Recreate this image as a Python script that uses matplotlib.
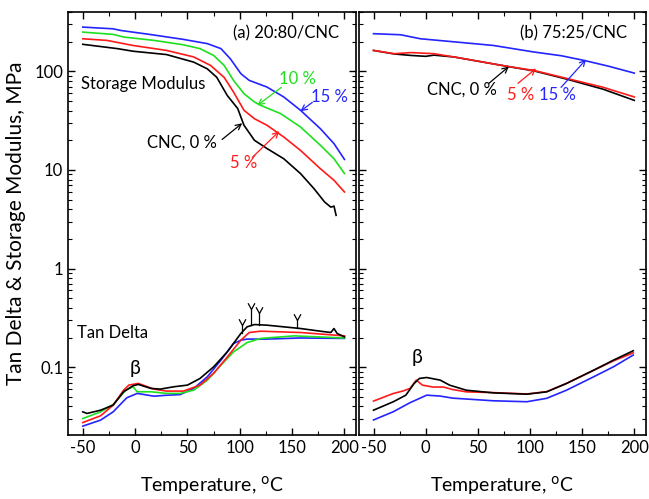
import matplotlib
matplotlib.use("Agg")
import matplotlib.pyplot as plt
from matplotlib.path import Path
from matplotlib.ticker import LogLocator, MultipleLocator, NullFormatter, FixedLocator, FixedFormatter

plt.rcParams['font.family'] = ['Lato', 'DejaVu Sans']
plt.rcParams['axes.unicode_minus'] = False

# ---- panel (a) 20:80/CNC, storage modulus (MPa)
a_e0_t = [-50, -17, -2, 30, 56, 69, 78, 88, 98, 104, 114, 126, 142, 158, 171, 181, 187, 190, 192]
a_e0 = [188, 170, 160, 148, 124, 106, 87, 57, 42, 28.4, 20, 16.5, 13, 9.2, 6.45, 4.74, 4.2, 4.3, 3.47]
a_e5_t = [-50, -27, -2, 30, 56, 72, 85, 94, 104, 114, 126, 142, 158, 177, 190, 200]
a_e5 = [214, 206, 183, 163, 140, 115, 87, 61.7, 40.3, 33.1, 28.4, 21.6, 15.8, 10.3, 7.86, 5.98]
a_e10_t = [-50, -21, -11, 18, 46, 62, 75, 85, 94, 104, 114, 120, 139, 158, 177, 190, 200]
a_e10 = [250, 237, 223, 206, 186, 170, 145, 115, 81, 59.4, 48.9, 45.2, 37.3, 27.3, 17.8, 13, 9.2]
a_e15_t = [-50, -21, -14, 15, 46, 69, 82, 91, 101, 109, 126, 142, 158, 177, 190, 200]
a_e15 = [281, 270, 260, 236, 211, 191, 170, 134, 94.8, 81, 69.3, 55, 40.3, 26.2, 18.5, 12.8]

# ---- panel (a) tan delta
a_d0_t = [-50, -46, -33, -21, -11, -2, 3, 15, 24, 37, 50, 62, 75, 88, 101, 107, 114, 126,
          158, 177, 187, 190, 193, 200]
a_d0 = [0.0353, 0.034, 0.0367, 0.0413, 0.0564, 0.0649, 0.067, 0.061, 0.060, 0.0634, 0.0659,
        0.077, 0.101, 0.143, 0.22, 0.257, 0.271, 0.267, 0.247, 0.232, 0.225, 0.247, 0.22, 0.203]
a_d5_t = [-50, -33, -21, -11, -6, 3, 18, 30, 46, 62, 75, 88, 101, 109, 120, 158, 200]
a_d5 = [0.0275, 0.0322, 0.0413, 0.0586, 0.0659, 0.0686, 0.060, 0.0573, 0.0573, 0.0659, 0.0867,
        0.127, 0.188, 0.225, 0.232, 0.225, 0.208]
a_d10_t = [-50, -33, -21, -9, -2, 2, 15, 30, 43, 56, 69, 82, 94, 107, 120, 152, 200]
a_d10 = [0.0302, 0.0353, 0.042, 0.0586, 0.0634, 0.0564, 0.0564, 0.0543, 0.0543, 0.0586, 0.074,
         0.105, 0.143, 0.178, 0.196, 0.208, 0.198]
a_d15_t = [-50, -33, -21, -8, 2, 18, 30, 43, 56, 69, 82, 94, 101, 107, 126, 158, 200]
a_d15 = [0.0253, 0.0291, 0.0353, 0.049, 0.0543, 0.0509, 0.052, 0.0528, 0.061, 0.080, 0.118,
         0.174, 0.188, 0.193, 0.193, 0.198, 0.196]

# gamma markers on the 0 % tan delta curve
gamma_t = [102, 111, 118, 155]
gamma_top = [0.27, 0.394, 0.351, 0.30]
gamma_base = [0.222, 0.271, 0.27, 0.248]

# ---- panel (b) 75:25/CNC, storage modulus
b_e0_t = [-50, -30, -14, 0, 8, 27, 79, 104, 136, 170, 200]
b_e0 = [163, 150, 145, 142, 146, 140, 112, 101, 83, 66, 50.8]
b_e5_t = [-50, -30, -14, 8, 27, 79, 104, 136, 170, 200]
b_e5 = [163, 151, 155, 151, 140, 112, 102, 84.4, 69, 55]
b_e15_t = [-50, -24, -5, 30, 65, 104, 130, 152, 175, 200]
b_e15 = [241, 235, 214, 198, 183, 157, 144, 129, 113, 96]

# ---- panel (b) tan delta
b_d0_t = [-50, -31, -19, -11, -6, 1, 14, 23, 39, 65, 97, 116, 135, 161, 180, 199]
b_d0 = [0.0367, 0.0447, 0.0521, 0.0685, 0.077, 0.0787, 0.074, 0.0658, 0.0585, 0.055, 0.0533,
        0.0563, 0.0685, 0.0933, 0.118, 0.147]
b_d5_t = [-50, -31, -22, -15, -9, -3, 7, 17, 26, 39, 65, 97, 116, 135, 161, 180, 199]
b_d5 = [0.0454, 0.0542, 0.0573, 0.061, 0.074, 0.0658, 0.063, 0.063, 0.0594, 0.0563, 0.0553,
        0.0536, 0.0566, 0.0685, 0.093, 0.116, 0.14]
b_d15_t = [-50, -31, -15, 1, 14, 26, 65, 97, 116, 135, 161, 180, 199]
b_d15 = [0.0292, 0.0354, 0.0437, 0.0521, 0.051, 0.0486, 0.0457, 0.0447, 0.0484, 0.0585, 0.080,
         0.101, 0.133]

BLACK = 'black'
RED = '#ff1a1a'
GREEN = '#1ee01e'
BLUE = '#2424ff'
lw = 1.2

# open "V" used as the top of the gamma "Y" marks
vee = Path([(-0.55, 1.0), (0, 0), (0.55, 1.0)], [Path.MOVETO, Path.LINETO, Path.LINETO])

fig = plt.figure(figsize=(6.49, 4.99), dpi=100)
ax1 = fig.add_axes([0.105, 0.128, 0.4435, 0.848])
ax2 = fig.add_axes([0.553, 0.128, 0.442, 0.848])

for ax in (ax1, ax2):
    ax.set_yscale('log')
    ax.set_xlim(-64, 211)
    ax.set_ylim(0.0205, 400)
    ax.xaxis.set_major_locator(MultipleLocator(50))
    ax.xaxis.set_minor_locator(MultipleLocator(25))
    ax.yaxis.set_major_locator(FixedLocator([0.1, 1, 10, 100]))
    ax.yaxis.set_minor_locator(LogLocator(base=10, subs=range(2, 10)))
    ax.yaxis.set_minor_formatter(NullFormatter())
    ax.tick_params(which='both', direction='in', top=True, right=True, labelsize=12)
    ax.tick_params(which='major', length=5, width=1)
    ax.tick_params(which='minor', length=3, width=0.8)
    for s in ax.spines.values():
        s.set_linewidth(1.2)
    ax.set_xlabel('Temperature, $^{\\mathrm{o}}$C', fontsize=14, labelpad=13)

ax1.yaxis.set_major_formatter(FixedFormatter(['0.1', '1', '10', '100']))
ax2.yaxis.set_major_formatter(NullFormatter())
ax1.set_ylabel('Tan Delta & Storage Modulus, MPa', fontsize=15, labelpad=6)

# panel (a)
ax1.plot(a_e0_t, a_e0, color=BLACK, lw=lw)
ax1.plot(a_e5_t, a_e5, color=RED, lw=lw)
ax1.plot(a_e10_t, a_e10, color=GREEN, lw=lw)
ax1.plot(a_e15_t, a_e15, color=BLUE, lw=lw)
ax1.plot(a_d15_t, a_d15, color=BLUE, lw=lw)
ax1.plot(a_d10_t, a_d10, color=GREEN, lw=lw)
ax1.plot(a_d5_t, a_d5, color=RED, lw=lw)
ax1.plot(a_d0_t, a_d0, color=BLACK, lw=lw)
for t, top, base in zip(gamma_t, gamma_top, gamma_base):
    ax1.plot([t, t], [base, top], color=BLACK, lw=0.9)
    ax1.plot([t], [top], marker=vee, color=BLACK, ms=9, mew=0.9, mfc='none')

ax1.text(0.94, 0.95, '(a) 20:80/CNC', transform=ax1.transAxes, ha='right', va='center', fontsize=12)
ax1.text(-52, 75, 'Storage Modulus', fontsize=12, va='center')
ax1.text(-56, 0.22, 'Tan Delta', fontsize=12, va='center')
ax1.text(0, 0.097, '\u03b2', fontsize=14, ha='center', va='center')

def arrow(ax, p0, p1, color):
    ax.annotate('', xy=p1, xytext=p0,
                arrowprops=dict(arrowstyle='->', lw=0.9, color=color, shrinkA=0, shrinkB=0))

arrow(ax1, (139.7, 68.8), (116.7, 45.2), GREEN)
ax1.text(155, 83, '10 %', color=GREEN, fontsize=12, ha='center', va='center')
arrow(ax1, (169.3, 48.5), (157.9, 39.4), BLUE)
ax1.text(185.5, 54.5, '15 %', color=BLUE, fontsize=12, ha='center', va='center')
arrow(ax1, (83.1, 20.4), (102.3, 29.8), BLACK)
ax1.text(45, 19.1, 'CNC, 0 %', color=BLACK, fontsize=12, ha='center', va='center')
arrow(ax1, (111.9, 13.4), (137.7, 24.7), RED)
ax1.text(104, 11.7, '5 %', color=RED, fontsize=12, ha='center', va='center')

# panel (b)
ax2.plot(b_e0_t, b_e0, color=BLACK, lw=lw)
ax2.plot(b_e5_t, b_e5, color=RED, lw=lw)
ax2.plot(b_e15_t, b_e15, color=BLUE, lw=lw)
ax2.plot(b_d15_t, b_d15, color=BLUE, lw=lw)
ax2.plot(b_d5_t, b_d5, color=RED, lw=lw)
ax2.plot(b_d0_t, b_d0, color=BLACK, lw=lw)

ax2.text(0.934, 0.95, '(b) 75:25/CNC', transform=ax2.transAxes, ha='right', va='center', fontsize=12)
ax2.text(-8, 0.125, '\u03b2', fontsize=14, ha='center', va='center')
arrow(ax2, (60.6, 75.6), (79.8, 112), BLACK)
ax2.text(35, 65.7, 'CNC, 0 %', color=BLACK, fontsize=12, ha='center', va='center')
arrow(ax2, (88.5, 75.6), (105.8, 107), RED)
ax2.text(91, 57, '5 %', color=RED, fontsize=12, ha='center', va='center')
arrow(ax2, (129.8, 68.8), (153.8, 132), BLUE)
ax2.text(126.4, 57, '15 %', color=BLUE, fontsize=12, ha='center', va='center')

fig.savefig('out.png', dpi=100)
